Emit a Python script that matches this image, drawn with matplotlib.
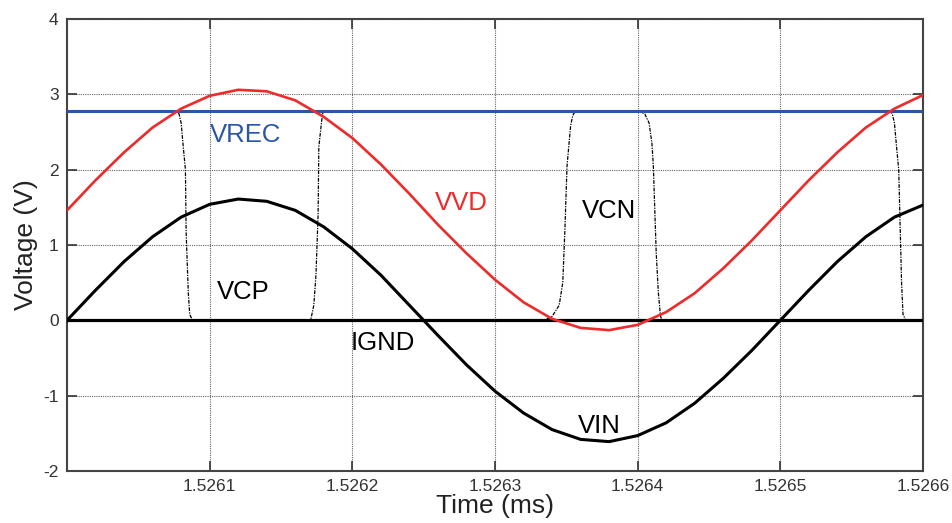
import matplotlib
matplotlib.use("Agg")
from matplotlib import pyplot as plt

plt.rcParams["font.family"] = ["Liberation Sans", "DejaVu Sans"]
plt.rcParams["axes.unicode_minus"] = False

# Sampled waveforms (time in ms)
time_ms = [1.52600, 1.52602, 1.52604, 1.52606, 1.52608, 1.52610, 1.52612, 1.52614,
           1.52616, 1.52618, 1.52620, 1.52622, 1.52624, 1.52626, 1.52628, 1.52630,
           1.52632, 1.52634, 1.52636, 1.52638, 1.52640, 1.52642, 1.52644, 1.52646,
           1.52648, 1.52650, 1.52652, 1.52654, 1.52656, 1.52658, 1.52660]
vin = [0.00, 0.40, 0.78, 1.11, 1.37, 1.54, 1.61, 1.58, 1.46, 1.24, 0.95,
       0.60, 0.20, -0.20, -0.59, -0.94, -1.23, -1.45, -1.58, -1.61, -1.53,
       -1.36, -1.10, -0.77, -0.40, 0.00, 0.40, 0.78, 1.11, 1.37, 1.53]
vvd = [1.46, 1.86, 2.23, 2.56, 2.81, 2.98, 3.06, 3.04, 2.92, 2.70, 2.42,
       2.07, 1.68, 1.27, 0.89, 0.54, 0.24, 0.02, -0.10, -0.13, -0.06,
       0.11, 0.36, 0.69, 1.06, 1.46, 1.86, 2.23, 2.56, 2.81, 2.99]
vrec_level = 2.78

# Switching nodes (breakpoints)
vcp_t = [1.52600, 1.526077, 1.5260785, 1.526080, 1.5260815, 1.526083, 1.5260835,
         1.526085, 1.526086, 1.526088, 1.526169, 1.526171, 1.526173, 1.5261745,
         1.526176, 1.5261765, 1.5261785, 1.5261795, 1.526577, 1.5265785,
         1.526580, 1.5265815, 1.526583, 1.526585, 1.526586, 1.526588, 1.52660]
vcp = [2.78, 2.78, 2.74, 2.62, 2.30, 2.00, 1.17, 0.37, 0.08, 0.00, 0.00, 0.02,
       0.20, 0.60, 1.40, 2.30, 2.65, 2.78, 2.78, 2.74, 2.62, 2.30, 2.00, 0.50,
       0.08, 0.00, 0.00]
vcn_t = [1.52600, 1.526334, 1.526340, 1.526345, 1.5263475, 1.526349, 1.5263505,
         1.526353, 1.5263545, 1.5263565, 1.526401, 1.526405, 1.526408, 1.526410,
         1.526411, 1.526413, 1.5264145, 1.526416, 1.526417, 1.52660]
vcn = [0.00, 0.00, 0.05, 0.20, 0.50, 1.20, 2.05, 2.58, 2.72, 2.78, 2.78, 2.74,
       2.62, 2.35, 2.05, 0.90, 0.37, 0.06, 0.00, 0.00]
ignd = [0.0, 0.0]
ignd_t = [1.52600, 1.52660]

x_ticks = [1.5261, 1.5262, 1.5263, 1.5264, 1.5265, 1.5266]
x_tick_labels = ["1.5261", "1.5262", "1.5263", "1.5264", "1.5265", "1.5266"]
y_ticks = [-2, -1, 0, 1, 2, 3, 4]

fig = plt.figure(figsize=(9.52, 5.23), dpi=100)
ax = fig.add_axes([0.0704, 0.0994, 0.8991, 0.8643])

ax.plot(vcp_t, vcp, color="black", lw=0.9, ls=(0, (3, 1, 1, 1)), zorder=2)
ax.plot(vcn_t, vcn, color="black", lw=0.9, ls=(0, (3, 1, 1, 1)), zorder=2)
ax.axhline(vrec_level, color="#2a57a5", lw=2.2, zorder=3)
ax.plot(ignd_t, ignd, color="black", lw=2.3, zorder=3)
ax.plot(time_ms, vvd, color="#ee2a2a", lw=1.9, zorder=4)
ax.plot(time_ms, vin, color="black", lw=2.2, zorder=4)

ax.text(1.526100, 2.37, "VREC", color="#2a57a5", fontsize=18.5)
ax.text(1.526258, 1.46, "VVD", color="#ee2a2a", fontsize=18.5)
ax.text(1.526361, 1.36, "VCN", color="black", fontsize=18.5)
ax.text(1.526105, 0.28, "VCP", color="black", fontsize=18.5)
ax.text(1.526199, -0.40, "IGND", color="black", fontsize=18.5)
ax.text(1.526358, -1.49, "VIN", color="black", fontsize=18.5)

ax.set_xlim(1.5260, 1.5266)
ax.set_ylim(-2, 4)
ax.set_xticks(x_ticks)
ax.set_xticklabels(x_tick_labels)
ax.set_yticks(y_ticks)
ax.grid(True, color="#666666", ls=(0, (1, 1)), lw=0.8)
ax.tick_params(direction="in", length=7, width=1.2, top=True, right=True,
               labelsize=12.5, labelcolor="#333333", color="#333333", pad=6)
for s in ax.spines.values():
    s.set_color("#444444")
    s.set_linewidth(1.5)

ax.set_xlabel("Time (ms)", fontsize=19, color="#222222", labelpad=0)
ax.set_ylabel("Voltage (V)", fontsize=19, color="#222222", labelpad=4)

fig.savefig("out.png", dpi=100)
